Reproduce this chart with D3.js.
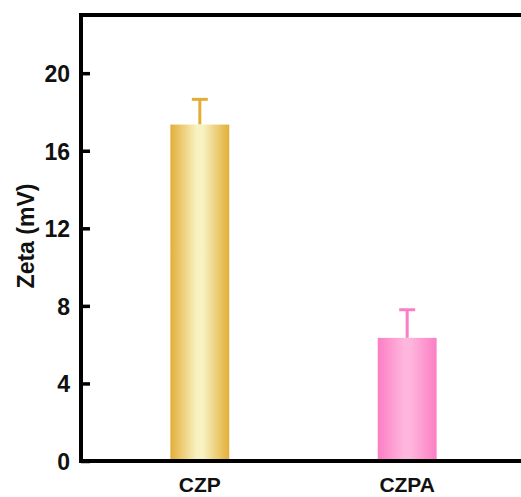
<!DOCTYPE html>
<html>
<head>
<meta charset="utf-8">
<script src="https://cdn.jsdelivr.net/npm/d3@7"></script>
<style>
  html, body { margin: 0; padding: 0; background: #fff; }
  svg { display: block; }
  text { font-family: "Liberation Sans", Arial, sans-serif; font-weight: bold; fill: #111; }
</style>
</head>
<body>
<svg id="chart" width="521" height="497"></svg>
<script>
// Zeta potential of the two samples (mean and error)
const categories = ["CZP", "CZPA"];
const zetaMeans = [17.35, 6.35];
const zetaErrors = [1.3, 1.45];
const yTicks = [0, 4, 8, 12, 16, 20];
const edgeColors = ["#E3AE38", "#FB7EC4"];
const centerColors = ["#F8F2C2", "#FFB6DD"];

const W = 521, H = 497;
const plot = { left: 81, right: 526, top: 15, bottom: 461 };

const svg = d3.select("#chart");

const x = d3.scaleBand()
  .domain(categories)
  .range([plot.left, plot.right])
  .paddingInner(0.716)
  .paddingOuter(0.431);

const y = d3.scaleLinear()
  .domain([0, 23])
  .range([plot.bottom, plot.top]);

// horizontal gradients for the bars
const defs = svg.append("defs");
categories.forEach((c, i) => {
  const g = defs.append("linearGradient")
    .attr("id", "grad" + i)
    .attr("x1", "0%").attr("x2", "100%").attr("y1", "0%").attr("y2", "0%");
  g.append("stop").attr("offset", "0%").attr("stop-color", edgeColors[i]);
  g.append("stop").attr("offset", "45%").attr("stop-color", centerColors[i]);
  g.append("stop").attr("offset", "55%").attr("stop-color", centerColors[i]);
  g.append("stop").attr("offset", "100%").attr("stop-color", edgeColors[i]);
});

// error bars (drawn first so the bar covers the lower half)
const eb = svg.append("g");
categories.forEach((c, i) => {
  const cx = x(c) + x.bandwidth() / 2;
  const top = y(zetaMeans[i] + zetaErrors[i]);
  eb.append("line")
    .attr("x1", cx).attr("x2", cx)
    .attr("y1", y(zetaMeans[i])).attr("y2", top)
    .attr("stroke", edgeColors[i]).attr("stroke-width", 3);
  eb.append("line")
    .attr("x1", cx - 8).attr("x2", cx + 8)
    .attr("y1", top).attr("y2", top)
    .attr("stroke", edgeColors[i]).attr("stroke-width", 3);
});

// bars
svg.append("g").selectAll("rect")
  .data(categories)
  .join("rect")
  .attr("x", d => x(d))
  .attr("width", x.bandwidth())
  .attr("y", (d, i) => y(zetaMeans[i]))
  .attr("height", (d, i) => y(0) - y(zetaMeans[i]))
  .attr("fill", (d, i) => `url(#grad${i})`);

// y axis with inward ticks
const yAxis = svg.append("g")
  .attr("transform", `translate(${plot.left},0)`)
  .call(d3.axisRight(y).tickValues(yTicks).tickSize(9).tickFormat(d3.format("d")));
yAxis.select(".domain").remove();
yAxis.selectAll(".tick line").attr("stroke", "#000").attr("stroke-width", 3.5);
yAxis.selectAll(".tick text")
  .attr("x", -11)
  .attr("text-anchor", "end")
  .attr("dy", "0.36em")
  .style("font-size", "23px");

// frame: left, top and bottom lines
svg.append("line")
  .attr("x1", plot.left).attr("x2", plot.left)
  .attr("y1", plot.top - 2).attr("y2", plot.bottom + 2)
  .attr("stroke", "#000").attr("stroke-width", 4);
svg.append("line")
  .attr("x1", plot.left - 2).attr("x2", W)
  .attr("y1", plot.top).attr("y2", plot.top)
  .attr("stroke", "#000").attr("stroke-width", 4);
svg.append("line")
  .attr("x1", plot.left - 2).attr("x2", W)
  .attr("y1", plot.bottom).attr("y2", plot.bottom)
  .attr("stroke", "#000").attr("stroke-width", 4);

// x category labels
svg.append("g").selectAll("text")
  .data(categories)
  .join("text")
  .attr("x", d => x(d) + x.bandwidth() / 2)
  .attr("y", 492)
  .attr("text-anchor", "middle")
  .style("font-size", "21px")
  .text(d => d);

// y axis title
svg.append("text")
  .attr("transform", "translate(34,236) rotate(-90)")
  .attr("text-anchor", "middle")
  .style("font-size", "23px")
  .text("Zeta (mV)");
</script>
</body>
</html>
